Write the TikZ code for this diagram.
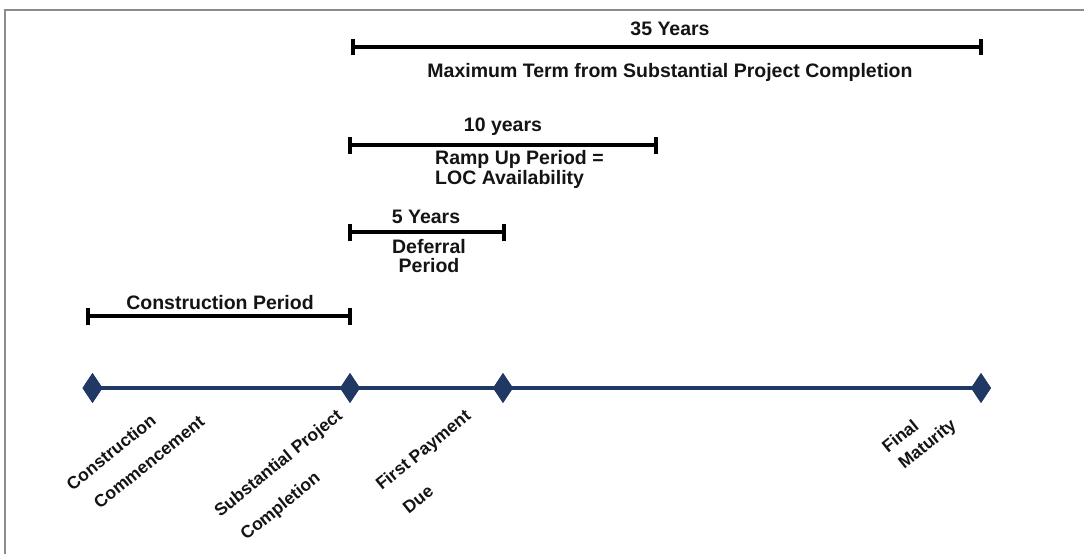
\documentclass[tikz,border=0pt]{standalone}
\usepackage{fontspec}
\setmainfont{Liberation Sans}
\usetikzlibrary{shapes.geometric}
\definecolor{navy}{RGB}{31,56,100}
\definecolor{ink}{RGB}{20,20,20}
\definecolor{frame}{RGB}{140,140,140}
\tikzset{
  lbl/.style={font=\fontsize{19.5}{23}\selectfont\bfseries, text=ink, inner sep=0pt},
  blbl/.style={lbl, anchor=base},
  bar/.style={draw=black, line width=3.6pt},
  tick/.style={draw=black, line width=3.8pt},
  dia/.style={diamond, fill=navy, draw=none, minimum width=20pt, minimum height=30pt, inner sep=0pt},
  rlbl/.style={font=\fontsize{17.5}{21}\selectfont\bfseries, text=ink, inner sep=0pt, rotate=39, anchor=center},
}
\begin{document}
\begin{tikzpicture}[x=1pt,y=-1pt]
\useasboundingbox (0,0) rectangle (1084,554);
\fill[white] (0,0) rectangle (1084,554);
\draw[frame, line width=2pt] (4.5,554) -- (4.5,9.5) -- (1084,9.5);

% 35 years bar
\coordinate (a1) at (353,47);
\coordinate (a2) at (981,47);
\draw[bar] (a1) -- (a2);
\draw[tick] ([yshift=-8]a1) -- ([yshift=8]a1);
\draw[tick] ([yshift=-8]a2) -- ([yshift=8]a2);
\node[blbl] (t35) at (670,35) {35 Years};
\node[blbl] (tmax) at (670,77) {Maximum Term from Substantial Project Completion};

% 10 years bar
\coordinate (b1) at (350,145);
\coordinate (b2) at (656,145);
\draw[bar] (b1) -- (b2);
\draw[tick] ([yshift=-8.5]b1) -- ([yshift=8.5]b1);
\draw[tick] ([yshift=-8.5]b2) -- ([yshift=8.5]b2);
\node[blbl] (t10) at (503,131) {10 years};
\node[blbl, anchor=base west] (tramp) at (435,164) {Ramp Up Period =};
\node[blbl, anchor=base west] (tloc) at (435,184) {LOC Availability};

% 5 years bar
\coordinate (c1) at (350,232);
\coordinate (c2) at (504,232);
\draw[bar, line width=3.2pt] (c1) -- (c2);
\draw[tick] ([yshift=-8.5]c1) -- ([yshift=8.5]c1);
\draw[tick] ([yshift=-8.5]c2) -- ([yshift=8.5]c2);
\node[blbl] (t5) at (426,223) {5 Years};
\node[blbl] (tdef) at (429,253) {Deferral};
\node[blbl] (tper) at (429,272) {Period};

% construction bar
\coordinate (e1) at (88,316);
\coordinate (e2) at (350,316);
\draw[bar, line width=3.2pt] (e1) -- (e2);
\draw[tick] ([yshift=-8.5]e1) -- ([yshift=8.5]e1);
\draw[tick] ([yshift=-8.5]e2) -- ([yshift=8.5]e2);
\node[blbl] (tcon) at (220,309) {Construction Period};

% timeline
\node[dia] (d1) at (92.5,388) {};
\node[dia] (d2) at (350,388) {};
\node[dia] (d3) at (503,388) {};
\node[dia] (d4) at (981,388) {};
\draw[navy, line width=4.5pt] (d1.center) -- (d4.center);
\foreach \n in {d1,d2,d3,d4} \node[dia] at (\n) {};

% rotated labels
\node[rlbl] (l1a) at (111,452) {Construction};
\node[rlbl] (l1b) at (149,462) {Commencement};
\node[rlbl] (l2a) at (279,464) {Substantial Project};
\node[rlbl] (l2b) at (281,507) {Completion};
\node[rlbl] (l3a) at (424,451) {First Payment};
\node[rlbl] (l3b) at (418,499) {Due};
\node[rlbl] (l4a) at (900,436) {Final};
\node[rlbl] (l4b) at (928,445) {Maturity};
\end{tikzpicture}
\end{document}
